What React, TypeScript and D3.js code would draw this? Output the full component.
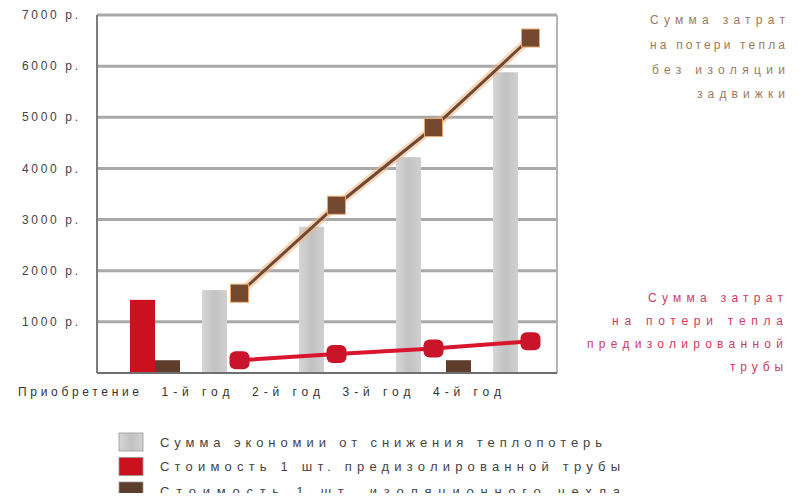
import * as d3 from 'd3'

const categories = ['Приобретение', '1-й год', '2-й год', '3-й год', '4-й год']
const savings = [0, 1620, 2860, 4220, 5880]
const pipeCost = [1430, 0, 0, 0, 0]
const jacketCost = [250, 0, 0, 250, 0]
const lossNoInsulation = [null, 1560, 3280, 4800, 6550]
const lossPreinsulated = [null, 250, 370, 480, 620]
const yTicks = [1000, 2000, 3000, 4000, 5000, 6000, 7000]
const legendLabels = [
  'Сумма экономии от снижения теплопотерь',
  'Стоимость 1 шт. предизолированной трубы',
  'Стоимость 1 шт. изоляционного чехла',
]
const noteTop = ['Сумма затрат', 'на потери тепла', 'без изоляции', 'задвижки']
const noteRed = ['Сумма затрат', 'на потери тепла', 'предизолированной', 'трубы']

const W = 798
const H = 501
const plot = { left: 97, right: 557, top: 15, bottom: 373 }

const RED = '#cc111e'
const BROWN = '#5e3d2c'

const App = () => {
  const y = d3.scaleLinear().domain([0, 7000]).range([plot.bottom, plot.top])
  const x = d3.scaleBand<string>().domain(categories).range([94, 579])
  const sub = d3.scaleBand<string>().domain(['s', 'p', 'j']).range([11, 86])
  const labelX = d3.scalePoint<string>().domain(categories).range([139, 501])
  const cx = (c: string) => (x(c) as number) + x.bandwidth() / 2

  interface Pt {
    c: string
    v: number
  }
  const line = d3
    .line<Pt>()
    .x((d) => cx(d.c))
    .y((d) => y(d.v))
  const brownPts: Pt[] = categories
    .map((c, i) => ({ c, v: lossNoInsulation[i] as number }))
    .filter((d) => d.v != null)
  const redPts: Pt[] = categories
    .map((c, i) => ({ c, v: lossPreinsulated[i] as number }))
    .filter((d) => d.v != null)

  const bars = [
    { key: 's', data: savings, fill: 'url(#grayGrad)' },
    { key: 'p', data: pipeCost, fill: RED },
    { key: 'j', data: jacketCost, fill: BROWN },
  ]

  const legendColors = ['url(#grayGrad)', RED, BROWN]
  const legendY = d3.scalePoint<number>().domain([0, 1, 2]).range([442, 491])
  const legendLen = [442, 460, 460]
  const noteTopLen = [135, 135, 133, 88]
  const noteRedLen = [135, 171, 196, 53]
  const noteY = d3.scalePoint<number>().domain([0, 1, 2, 3]).range([20, 94])
  const noteRedY = d3.scalePoint<number>().domain([0, 1, 2, 3]).range([298, 367])

  return (
    <svg width={W} height={H} style={{ display: 'block', margin: -8 }} fontFamily="Arial, 'Liberation Sans', sans-serif">
      <defs>
        <linearGradient id="grayGrad" x1="0" x2="1" y1="0" y2="0">
          <stop offset="0" stopColor="#d6d6d6" />
          <stop offset="0.5" stopColor="#c2c2c2" />
          <stop offset="1" stopColor="#d0d0d0" />
        </linearGradient>
      </defs>
      <rect width={W} height={H} fill="#fff" />

      {/* grid */}
      {yTicks.map((t) => (
        <line key={t} x1={plot.left} x2={plot.right} y1={y(t)} y2={y(t)} stroke="#a9a9a9" strokeWidth={3} />
      ))}
      <line x1={plot.right} x2={plot.right} y1={plot.top} y2={plot.bottom} stroke="#b5b5b5" strokeWidth={2} />

      {/* bars */}
      {bars.map((s) =>
        categories.map((c, i) =>
          s.data[i] > 0 ? (
            <rect
              key={s.key + c}
              x={(x(c) as number) + (sub(s.key) as number)}
              width={sub.bandwidth()}
              y={y(s.data[i])}
              height={y(0) - y(s.data[i])}
              fill={s.fill}
            />
          ) : null
        )
      )}

      {/* axes */}
      <line x1={plot.left} x2={plot.left} y1={plot.top} y2={plot.bottom} stroke="#6f6f6f" strokeWidth={1.8} />
      <line x1={plot.left} x2={plot.right} y1={plot.bottom} y2={plot.bottom} stroke="#6f6f6f" strokeWidth={1.8} />
      {yTicks.map((t) => (
        <text key={t} x={78} y={y(t)} dy="0.35em" textAnchor="end" fontSize={12} fill="#444" textLength={56} lengthAdjust="spacing">
          {t + ' р.'}
        </text>
      ))}
      {categories.map((c, i) => (
        <text
          key={c}
          x={labelX(c)}
          y={392}
          dy="0.35em"
          textAnchor="end"
          fontSize={12}
          fill="#333"
          textLength={i === 0 ? 121 : 68}
          lengthAdjust="spacing"
        >
          {c}
        </text>
      ))}

      {/* lines */}
      <path d={line(brownPts) ?? ''} fill="none" stroke="#f0b27a" strokeWidth={8} opacity={0.55} />
      <path d={line(brownPts) ?? ''} fill="none" stroke="#6e4a36" strokeWidth={3} />
      {brownPts.map((d) => (
        <rect key={d.c} x={cx(d.c) - 9} y={y(d.v) - 9} width={18} height={18} fill="#75492f" stroke="#e9a86e" strokeWidth={1} />
      ))}
      <path d={line(redPts) ?? ''} fill="none" stroke="#d9162e" strokeWidth={4} />
      {redPts.map((d) => (
        <rect key={d.c} x={cx(d.c) - 10} y={y(d.v) - 9} width={20} height={18} rx={6} fill="#c9142a" />
      ))}

      {/* legend */}
      {legendLabels.map((l, i) => (
        <g key={l}>
          <rect x={119} y={legendY(i)! - 9} width={24} height={18} fill={legendColors[i]} stroke="#999" strokeWidth={0.8} />
          <text x={160} y={legendY(i)} dy="0.35em" fontSize={13} fill="#444" textLength={legendLen[i]} lengthAdjust="spacing">
            {l}
          </text>
        </g>
      ))}

      {/* notes */}
      {noteTop.map((t, i) => (
        <text key={t} x={785} y={noteY(i)} dy="0.35em" textAnchor="end" fontSize={12} fill="#9c7a5e" textLength={noteTopLen[i]} lengthAdjust="spacing">
          {t}
        </text>
      ))}
      {noteRed.map((t, i) => (
        <text key={t} x={783} y={noteRedY(i)} dy="0.35em" textAnchor="end" fontSize={12} fill="#d23a62" textLength={noteRedLen[i]} lengthAdjust="spacing">
          {t}
        </text>
      ))}
    </svg>
  )
}

export default App
